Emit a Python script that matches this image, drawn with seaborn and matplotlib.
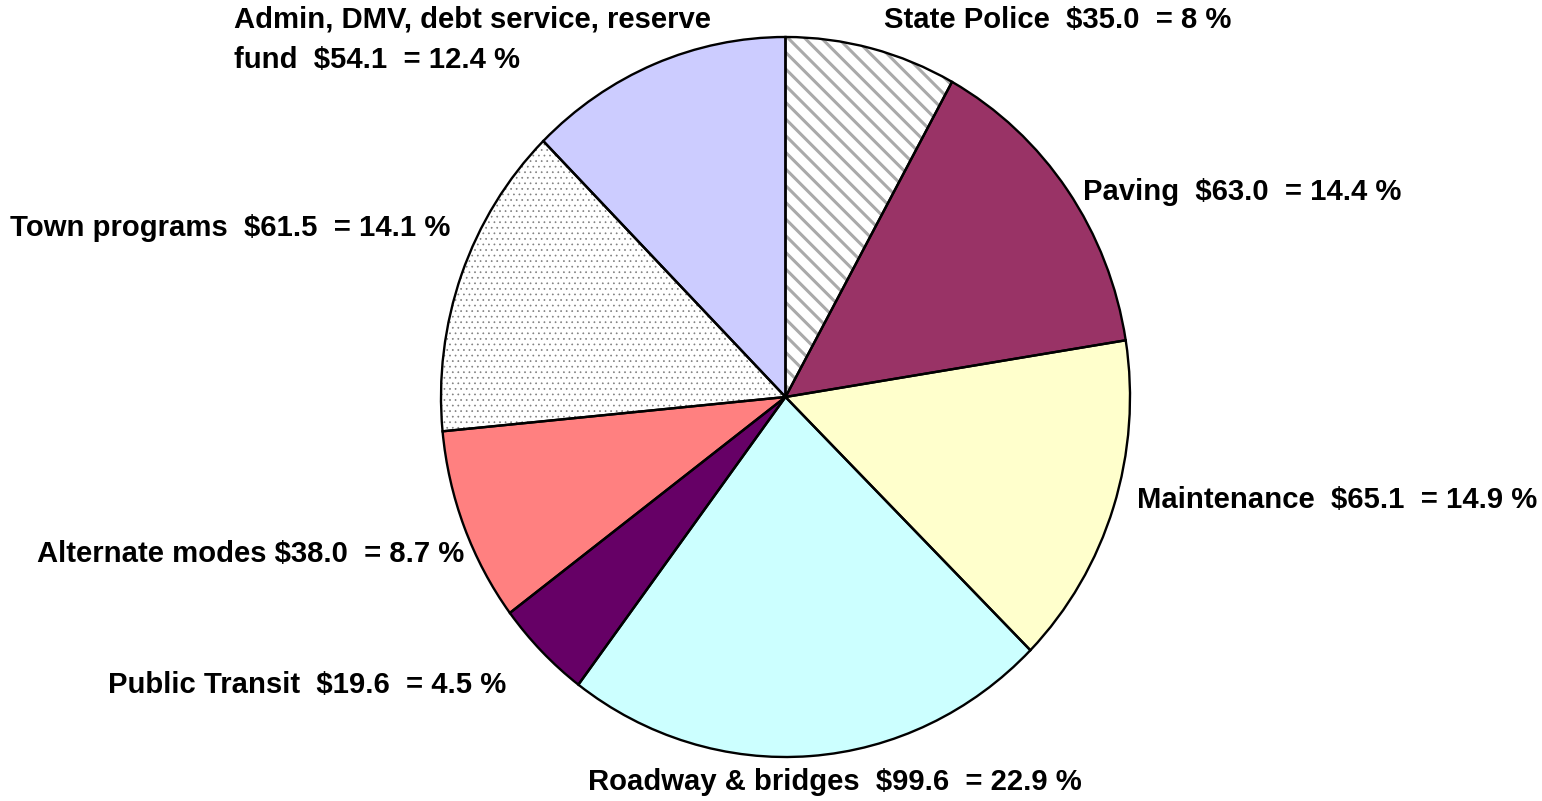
import matplotlib
matplotlib.use("Agg")
import matplotlib.pyplot as plt
import seaborn as sns

# Transportation fund spending, $ millions (clockwise from 12 o'clock)
categories = [
    "State Police",
    "Paving",
    "Maintenance",
    "Roadway & bridges",
    "Public Transit",
    "Alternate modes",
    "Town programs",
    "Admin, DMV, debt service, reserve\nfund",
]
amounts = [35.0, 63.0, 65.1, 99.6, 19.6, 38.0, 61.5, 54.1]
percent_text = ["8", "14.4", "14.9", "22.9", "4.5", "8.7", "14.1", "12.4"]
gaps = ["  ", "  ", "  ", "  ", "  ", " ", "  ", "  "]

colors = ["#FFFFFF", "#993366", "#FFFFCC", "#CCFFFF",
          "#660066", "#FF8080", "#FFFFFF", "#CCCCFF"]
hatches = ["\\\\", None, None, None, None, None, "...", None]
hatch_widths = [2.2, None, None, None, None, None, 0.5, None]
hatch_colors = ["#aaaaaa", None, None, None, None, None, "#808080", None]

sns.set_theme(style="white")
plt.rcParams["font.family"] = ["Liberation Sans", "DejaVu Sans"]

W, H = 1542, 801
fig = plt.figure(figsize=(W / 100, H / 100), dpi=100)
fig.patch.set_facecolor("white")

# pie occupies a slightly tall ellipse
left, right, top, bottom = 441, 1130, 37, 757
ax = fig.add_axes([left / W, 1 - bottom / H, (right - left) / W, (bottom - top) / H])

# fill layer (hatch colour comes from the edge colour)
wedges, _ = ax.pie(amounts, colors=colors, startangle=90, counterclock=False,
                   radius=1, wedgeprops=dict(linewidth=0))
for w, h, hw, hc in zip(wedges, hatches, hatch_widths, hatch_colors):
    if h:
        w.set_hatch(h)
        w.set_edgecolor(hc)
        w.set_linewidth(0)
        if hasattr(w, "set_hatch_linewidth"):
            w.set_hatch_linewidth(hw)
        else:
            w._hatch_linewidth = hw

# outline layer
ax.pie(amounts, colors=["none"] * len(amounts), startangle=90, counterclock=False,
       radius=1, wedgeprops=dict(linewidth=1.7, edgecolor="black", fill=False))

ax.set_aspect("auto")
ax.set_xlim(-1, 1)
ax.set_ylim(-1, 1)
ax.axis("off")

# label anchors (left edge x, vertical centre y) in pixels
label_pos = [(884, 20), (1083, 192), (1137, 500), (588, 782),
             (108, 685), (37, 554), (10, 228), (234, 40)]

for name, amt, pct, gap, (px, py) in zip(categories, amounts, percent_text, gaps, label_pos):
    txt = f"{name}{gap}${amt:.1f}  = {pct} %"
    fig.text(px / W, 1 - py / H, txt, ha="left", va="center",
             fontsize=21.1, fontweight="bold", color="black", linespacing=1.55)

fig.savefig("out.png", dpi=100, facecolor="white")
